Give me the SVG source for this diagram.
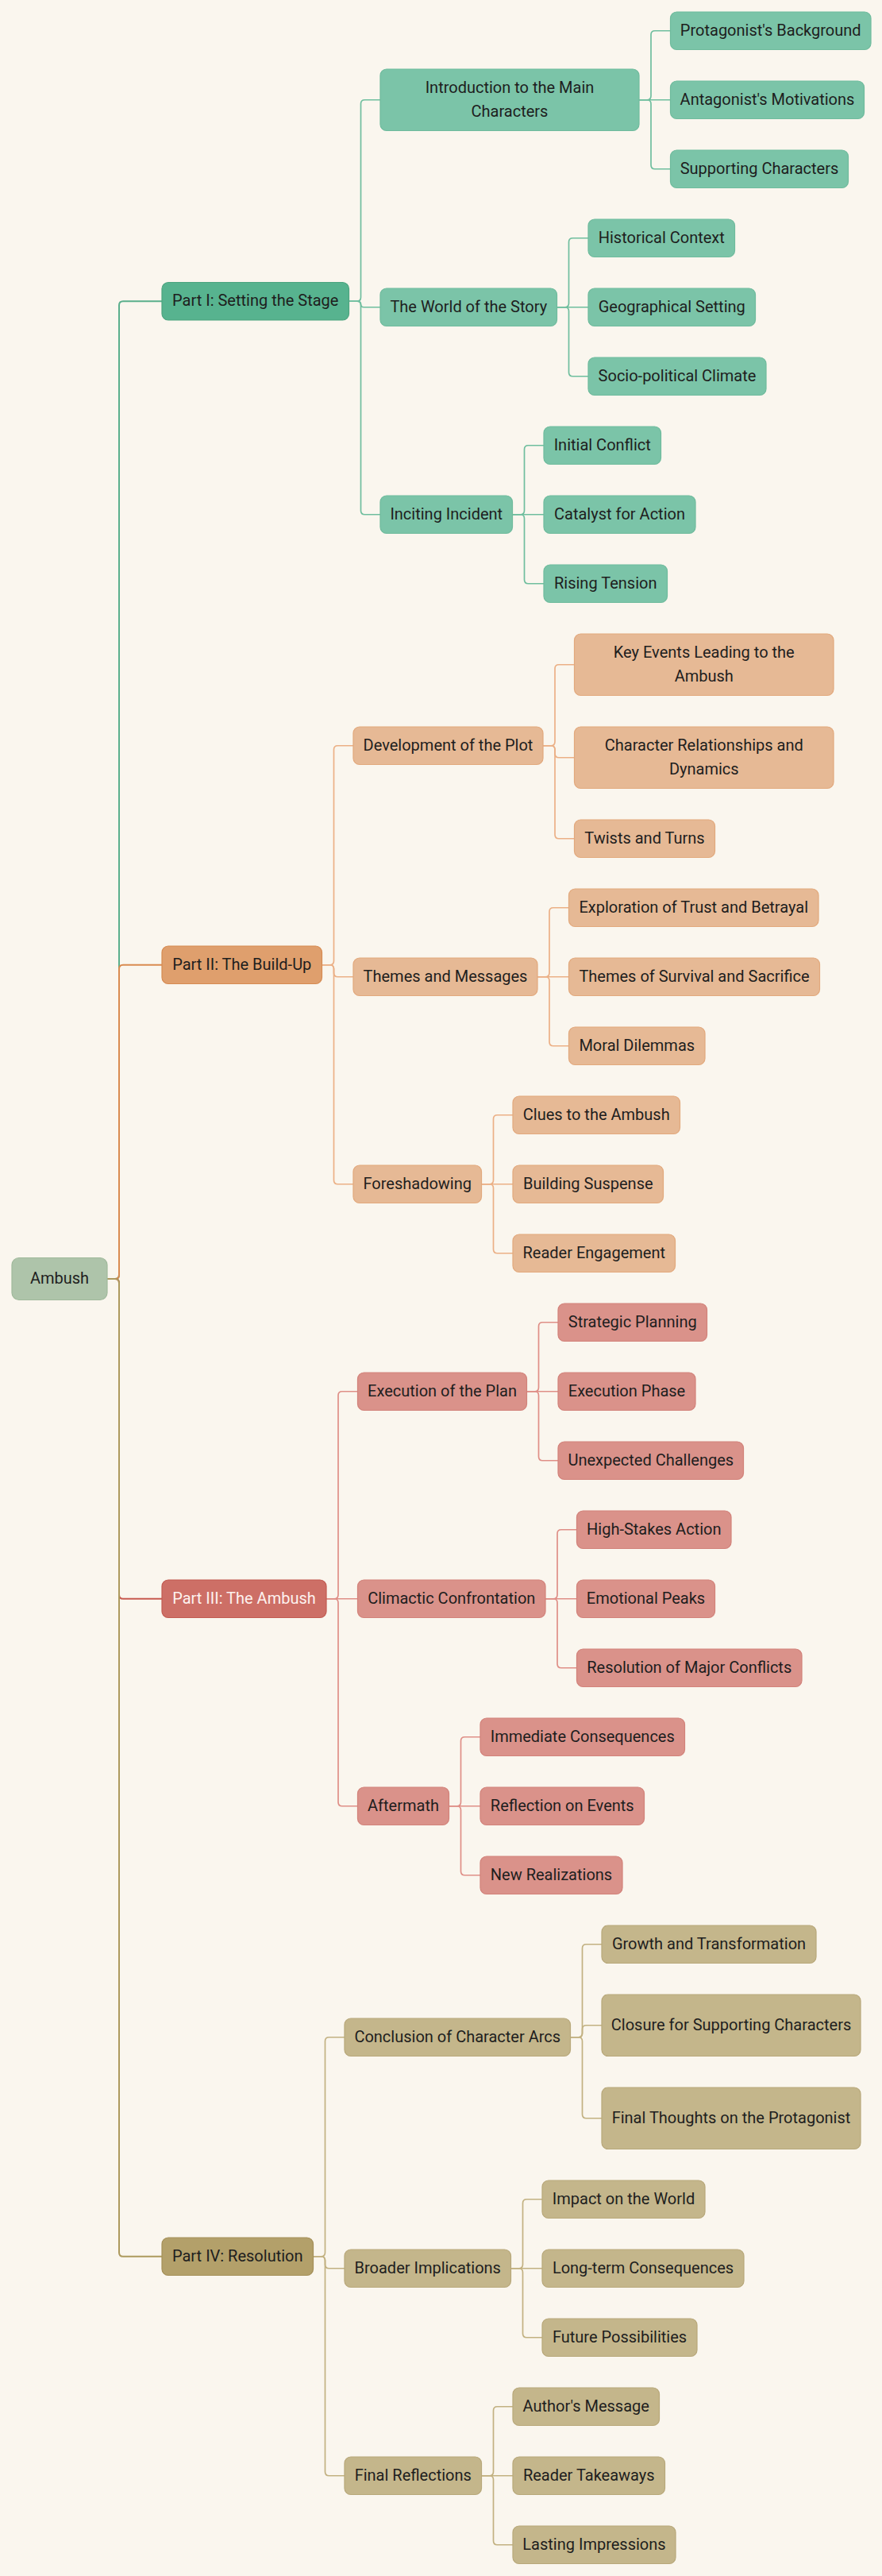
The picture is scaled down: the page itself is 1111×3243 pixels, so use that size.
<svg xmlns="http://www.w3.org/2000/svg" width="1111" height="3243" viewBox="0 0 1111 3243">
<style>
text{font-family:Roboto,"Liberation Sans",sans-serif;font-size:20px;fill:#1e1e1e;text-anchor:middle}
.c{fill:none;stroke-linejoin:round;stroke-linecap:round}
.l1{stroke-width:2}
.l2{stroke-width:1.7}
.cg1{stroke:#5aaf8c}.cg2{stroke:#6fbe9e}
.co1{stroke:#d98b50}.co2{stroke:#ebb086}
.cr1{stroke:#c85a50}.cr2{stroke:#df8f87}
.ct1{stroke:#ad9a5e}.ct2{stroke:#c2b181}
rect{stroke-width:1.2}
.root{fill:#aec4aa;stroke:#a0b99b}
.p1{fill:#57b38f;stroke:#4ca47f}.g{fill:#7bc4a8;stroke:#6fbb9d}
.p2{fill:#df9f6d;stroke:#d68b52}.o{fill:#e6b995;stroke:#e2a97d}
.p3{fill:#cd6f66;stroke:#c25b51}.r{fill:#da928a;stroke:#d2827a}
.p4{fill:#b3a06a;stroke:#a48f58}.t{fill:#c4b68b;stroke:#b8a87a}
.w{fill:#fdf2ef}
</style>
<rect x="0" y="0" width="1111" height="3243" fill="#faf6ee" stroke="none"/>
<g id="connectors">
<g class="c l1">
<path class="cg1" d="M135 1610 H145 Q150 1610 150 1605 V384.25 Q150 379.25 155 379.25 H204"/>
<path class="co1" d="M135 1610 H145 Q150 1610 150 1605 V1219.75 Q150 1214.75 155 1214.75 H204"/>
<path class="cr1" d="M135 1610 H145 Q150 1610 150 1615 V2007.75 Q150 2012.75 155 2012.75 H204"/>
<path class="ct1" d="M135 1610 H145 Q150 1610 150 1615 V2835.75 Q150 2840.75 155 2840.75 H204"/>
</g>
<g class="c l2 cg2">
<path d="M439.5 379.25 H449.5 Q454.5 379.25 454.5 374.25 V130.75 Q454.5 125.75 459.5 125.75 H479"/>
<path d="M439.5 379.25 H450.75 Q454.5 379.25 454.5 383 Q454.5 386.75 458.25 386.75 H479"/>
<path d="M439.5 379.25 H449.5 Q454.5 379.25 454.5 384.25 V642.75 Q454.5 647.75 459.5 647.75 H479"/>
<path d="M805 125.75 H815 Q820 125.75 820 120.75 V43.75 Q820 38.75 825 38.75 H844.5"/>
<path d="M805 125.75 H844.5"/>
<path d="M805 125.75 H815 Q820 125.75 820 130.75 V207.75 Q820 212.75 825 212.75 H844.5"/>
<path d="M701.5 386.75 H711.5 Q716.5 386.75 716.5 381.75 V304.75 Q716.5 299.75 721.5 299.75 H741"/>
<path d="M701.5 386.75 H741"/>
<path d="M701.5 386.75 H711.5 Q716.5 386.75 716.5 391.75 V468.75 Q716.5 473.75 721.5 473.75 H741"/>
<path d="M645.5 647.75 H655.5 Q660.5 647.75 660.5 642.75 V565.75 Q660.5 560.75 665.5 560.75 H685"/>
<path d="M645.5 647.75 H685"/>
<path d="M645.5 647.75 H655.5 Q660.5 647.75 660.5 652.75 V729.75 Q660.5 734.75 665.5 734.75 H685"/>
</g>
<g class="c l2 co2">
<path d="M405.5 1214.75 H415.5 Q420.5 1214.75 420.5 1209.75 V943.75 Q420.5 938.75 425.5 938.75 H445"/>
<path d="M405.5 1214.75 H415.5 Q420.5 1214.75 420.5 1219.75 V1224.75 Q420.5 1229.75 425.5 1229.75 H445"/>
<path d="M405.5 1214.75 H415.5 Q420.5 1214.75 420.5 1219.75 V1485.75 Q420.5 1490.75 425.5 1490.75 H445"/>
<path d="M684 938.75 H694 Q699 938.75 699 933.75 V841.75 Q699 836.75 704 836.75 H723.5"/>
<path d="M684 938.75 H694 Q699 938.75 699 943.75 V948.75 Q699 953.75 704 953.75 H723.5"/>
<path d="M684 938.75 H694 Q699 938.75 699 943.75 V1050.75 Q699 1055.75 704 1055.75 H723.5"/>
<path d="M677 1229.75 H687 Q692 1229.75 692 1224.75 V1147.75 Q692 1142.75 697 1142.75 H716.5"/>
<path d="M677 1229.75 H716.5"/>
<path d="M677 1229.75 H687 Q692 1229.75 692 1234.75 V1311.75 Q692 1316.75 697 1316.75 H716.5"/>
<path d="M606.5 1490.75 H616.5 Q621.5 1490.75 621.5 1485.75 V1408.75 Q621.5 1403.75 626.5 1403.75 H646"/>
<path d="M606.5 1490.75 H646"/>
<path d="M606.5 1490.75 H616.5 Q621.5 1490.75 621.5 1495.75 V1572.75 Q621.5 1577.75 626.5 1577.75 H646"/>
</g>
<g class="c l2 cr2">
<path d="M411 2012.75 H421 Q426 2012.75 426 2007.75 V1756.75 Q426 1751.75 431 1751.75 H450.5"/>
<path d="M411 2012.75 H450.5"/>
<path d="M411 2012.75 H421 Q426 2012.75 426 2017.75 V2268.75 Q426 2273.75 431 2273.75 H450.5"/>
<path d="M663.5 1751.75 H673.5 Q678.5 1751.75 678.5 1746.75 V1669.75 Q678.5 1664.75 683.5 1664.75 H703"/>
<path d="M663.5 1751.75 H703"/>
<path d="M663.5 1751.75 H673.5 Q678.5 1751.75 678.5 1756.75 V1833.75 Q678.5 1838.75 683.5 1838.75 H703"/>
<path d="M687 2012.75 H697 Q702 2012.75 702 2007.75 V1930.75 Q702 1925.75 707 1925.75 H726.5"/>
<path d="M687 2012.75 H726.5"/>
<path d="M687 2012.75 H697 Q702 2012.75 702 2017.75 V2094.75 Q702 2099.75 707 2099.75 H726.5"/>
<path d="M565.5 2273.75 H575.5 Q580.5 2273.75 580.5 2268.75 V2191.75 Q580.5 2186.75 585.5 2186.75 H605"/>
<path d="M565.5 2273.75 H605"/>
<path d="M565.5 2273.75 H575.5 Q580.5 2273.75 580.5 2278.75 V2355.75 Q580.5 2360.75 585.5 2360.75 H605"/>
</g>
<g class="c l2 ct2">
<path d="M394.5 2840.75 H404.5 Q409.5 2840.75 409.5 2835.75 V2569.75 Q409.5 2564.75 414.5 2564.75 H434"/>
<path d="M394.5 2840.75 H404.5 Q409.5 2840.75 409.5 2845.75 V2850.75 Q409.5 2855.75 414.5 2855.75 H434"/>
<path d="M394.5 2840.75 H404.5 Q409.5 2840.75 409.5 2845.75 V3111.75 Q409.5 3116.75 414.5 3116.75 H434"/>
<path d="M718.5 2564.75 H728.5 Q733.5 2564.75 733.5 2559.75 V2452.75 Q733.5 2447.75 738.5 2447.75 H758"/>
<path d="M718.5 2564.75 H728.5 Q733.5 2564.75 733.5 2559.75 V2554.75 Q733.5 2549.75 738.5 2549.75 H758"/>
<path d="M718.5 2564.75 H728.5 Q733.5 2564.75 733.5 2569.75 V2661.75 Q733.5 2666.75 738.5 2666.75 H758"/>
<path d="M643.5 2855.75 H653.5 Q658.5 2855.75 658.5 2850.75 V2773.75 Q658.5 2768.75 663.5 2768.75 H683"/>
<path d="M643.5 2855.75 H683"/>
<path d="M643.5 2855.75 H653.5 Q658.5 2855.75 658.5 2860.75 V2937.75 Q658.5 2942.75 663.5 2942.75 H683"/>
<path d="M606.5 3116.75 H616.5 Q621.5 3116.75 621.5 3111.75 V3034.75 Q621.5 3029.75 626.5 3029.75 H646"/>
<path d="M606.5 3116.75 H646"/>
<path d="M606.5 3116.75 H616.5 Q621.5 3116.75 621.5 3121.75 V3198.75 Q621.5 3203.75 626.5 3203.75 H646"/>
</g>
</g>
<g id="nodes">
<g id="root"><rect class="root" x="15" y="1583.5" width="120" height="53" rx="9"/><text x="75" y="1615.5">Ambush</text></g>

<g id="part1"><rect class="p1" x="204" y="355.5" width="235.5" height="47.5" rx="8"/><text x="321.75" y="385">Part I: Setting the Stage</text></g>
<g id="intro"><rect class="g" x="479" y="87" width="326" height="77.5" rx="8"/><text x="642" y="116.5">Introduction to the Main</text><text x="642" y="146.5">Characters</text></g>
<g id="protagonist"><rect class="g" x="844.5" y="15" width="252.5" height="47.5" rx="8"/><text x="970.75" y="44.5">Protagonist's Background</text></g>
<g id="antagonist"><rect class="g" x="844.5" y="102" width="244" height="47.5" rx="8"/><text x="966.5" y="131.5">Antagonist's Motivations</text></g>
<g id="supporting"><rect class="g" x="844.5" y="189" width="224" height="47.5" rx="8"/><text x="956.5" y="218.5">Supporting Characters</text></g>
<g id="world"><rect class="g" x="479" y="363" width="222.5" height="47.5" rx="8"/><text x="590.25" y="392.5">The World of the Story</text></g>
<g id="historical"><rect class="g" x="741" y="276" width="184.5" height="47.5" rx="8"/><text x="833.25" y="305.5">Historical Context</text></g>
<g id="geographical"><rect class="g" x="741" y="363" width="210.5" height="47.5" rx="8"/><text x="846.25" y="392.5">Geographical Setting</text></g>
<g id="sociopolitical"><rect class="g" x="741" y="450" width="224" height="47.5" rx="8"/><text x="853" y="479.5">Socio-political Climate</text></g>
<g id="inciting"><rect class="g" x="479" y="624" width="166.5" height="47.5" rx="8"/><text x="562.25" y="653.5">Inciting Incident</text></g>
<g id="initial"><rect class="g" x="685" y="537" width="147.5" height="47.5" rx="8"/><text x="758.75" y="566.5">Initial Conflict</text></g>
<g id="catalyst"><rect class="g" x="685" y="624" width="191" height="47.5" rx="8"/><text x="780.5" y="653.5">Catalyst for Action</text></g>
<g id="rising"><rect class="g" x="685" y="711" width="155.5" height="47.5" rx="8"/><text x="762.75" y="740.5">Rising Tension</text></g>

<g id="part2"><rect class="p2" x="204" y="1191" width="201.5" height="47.5" rx="8"/><text x="304.75" y="1220.5">Part II: The Build-Up</text></g>
<g id="development"><rect class="o" x="445" y="915" width="239" height="47.5" rx="8"/><text x="564.5" y="944.5">Development of the Plot</text></g>
<g id="keyevents"><rect class="o" x="723.5" y="798" width="326.5" height="77.5" rx="8"/><text x="886.75" y="827.5">Key Events Leading to the</text><text x="886.75" y="857.5">Ambush</text></g>
<g id="relationships"><rect class="o" x="723.5" y="915" width="326.5" height="77.5" rx="8"/><text x="886.75" y="944.5">Character Relationships and</text><text x="886.75" y="974.5">Dynamics</text></g>
<g id="twists"><rect class="o" x="723.5" y="1032" width="177" height="47.5" rx="8"/><text x="812" y="1061.5">Twists and Turns</text></g>
<g id="themes"><rect class="o" x="445" y="1206" width="232" height="47.5" rx="8"/><text x="561" y="1235.5">Themes and Messages</text></g>
<g id="trust"><rect class="o" x="716.5" y="1119" width="314.5" height="47.5" rx="8"/><text x="873.75" y="1148.5">Exploration of Trust and Betrayal</text></g>
<g id="survival"><rect class="o" x="716.5" y="1206" width="316" height="47.5" rx="8"/><text x="874.5" y="1235.5">Themes of Survival and Sacrifice</text></g>
<g id="moral"><rect class="o" x="716.5" y="1293" width="171.5" height="47.5" rx="8"/><text x="802.25" y="1322.5">Moral Dilemmas</text></g>
<g id="foreshadowing"><rect class="o" x="445" y="1467" width="161.5" height="47.5" rx="8"/><text x="525.75" y="1496.5">Foreshadowing</text></g>
<g id="clues"><rect class="o" x="646" y="1380" width="210.5" height="47.5" rx="8"/><text x="751.25" y="1409.5">Clues to the Ambush</text></g>
<g id="suspense"><rect class="o" x="646" y="1467" width="189.5" height="47.5" rx="8"/><text x="740.75" y="1496.5">Building Suspense</text></g>
<g id="engagement"><rect class="o" x="646" y="1554" width="204.5" height="47.5" rx="8"/><text x="748.25" y="1583.5">Reader Engagement</text></g>

<g id="part3"><rect class="p3" x="204" y="1989" width="207" height="47.5" rx="8"/><text class="w" x="307.5" y="2018.5">Part III: The Ambush</text></g>
<g id="execution"><rect class="r" x="450.5" y="1728" width="213" height="47.5" rx="8"/><text x="557" y="1757.5">Execution of the Plan</text></g>
<g id="strategic"><rect class="r" x="703" y="1641" width="187.5" height="47.5" rx="8"/><text x="796.75" y="1670.5">Strategic Planning</text></g>
<g id="phase"><rect class="r" x="703" y="1728" width="173" height="47.5" rx="8"/><text x="789.5" y="1757.5">Execution Phase</text></g>
<g id="unexpected"><rect class="r" x="703" y="1815" width="233.5" height="47.5" rx="8"/><text x="819.75" y="1844.5">Unexpected Challenges</text></g>
<g id="climactic"><rect class="r" x="450.5" y="1989" width="236.5" height="47.5" rx="8"/><text x="568.75" y="2018.5">Climactic Confrontation</text></g>
<g id="highstakes"><rect class="r" x="726.5" y="1902" width="194.5" height="47.5" rx="8"/><text x="823.75" y="1931.5">High-Stakes Action</text></g>
<g id="emotional"><rect class="r" x="726.5" y="1989" width="174" height="47.5" rx="8"/><text x="813.5" y="2018.5">Emotional Peaks</text></g>
<g id="resolutionconflicts"><rect class="r" x="726.5" y="2076" width="283.5" height="47.5" rx="8"/><text x="868.25" y="2105.5">Resolution of Major Conflicts</text></g>
<g id="aftermath"><rect class="r" x="450.5" y="2250" width="115" height="47.5" rx="8"/><text x="508" y="2279.5">Aftermath</text></g>
<g id="immediate"><rect class="r" x="605" y="2163" width="257.5" height="47.5" rx="8"/><text x="733.75" y="2192.5">Immediate Consequences</text></g>
<g id="reflection"><rect class="r" x="605" y="2250" width="206.5" height="47.5" rx="8"/><text x="708.25" y="2279.5">Reflection on Events</text></g>
<g id="realizations"><rect class="r" x="605" y="2337" width="179" height="47.5" rx="8"/><text x="694.5" y="2366.5">New Realizations</text></g>

<g id="part4"><rect class="p4" x="204" y="2817" width="190.5" height="47.5" rx="8"/><text x="299.25" y="2846.5">Part IV: Resolution</text></g>
<g id="conclusion"><rect class="t" x="434" y="2541" width="284.5" height="47.5" rx="8"/><text x="576.25" y="2570.5">Conclusion of Character Arcs</text></g>
<g id="growth"><rect class="t" x="758" y="2424" width="270" height="47.5" rx="8"/><text x="893" y="2453.5">Growth and Transformation</text></g>
<g id="closure"><rect class="t" x="758" y="2511" width="326" height="77.5" rx="8"/><text x="921" y="2555.5">Closure for Supporting Characters</text></g>
<g id="finalthoughts"><rect class="t" x="758" y="2628" width="326" height="77.5" rx="8"/><text x="921" y="2672.5">Final Thoughts on the Protagonist</text></g>
<g id="broader"><rect class="t" x="434" y="2832" width="209.5" height="47.5" rx="8"/><text x="538.75" y="2861.5">Broader Implications</text></g>
<g id="impact"><rect class="t" x="683" y="2745" width="205" height="47.5" rx="8"/><text x="785.5" y="2774.5">Impact on the World</text></g>
<g id="longterm"><rect class="t" x="683" y="2832" width="254" height="47.5" rx="8"/><text x="810" y="2861.5">Long-term Consequences</text></g>
<g id="future"><rect class="t" x="683" y="2919" width="195" height="47.5" rx="8"/><text x="780.5" y="2948.5">Future Possibilities</text></g>
<g id="finalreflections"><rect class="t" x="434" y="3093" width="172.5" height="47.5" rx="8"/><text x="520.25" y="3122.5">Final Reflections</text></g>
<g id="author"><rect class="t" x="646" y="3006" width="184.5" height="47.5" rx="8"/><text x="738.25" y="3035.5">Author's Message</text></g>
<g id="takeaways"><rect class="t" x="646" y="3093" width="191.5" height="47.5" rx="8"/><text x="741.75" y="3122.5">Reader Takeaways</text></g>
<g id="lasting"><rect class="t" x="646" y="3180" width="205" height="47.5" rx="8"/><text x="748.5" y="3209.5">Lasting Impressions</text></g>
</g>
</svg>
